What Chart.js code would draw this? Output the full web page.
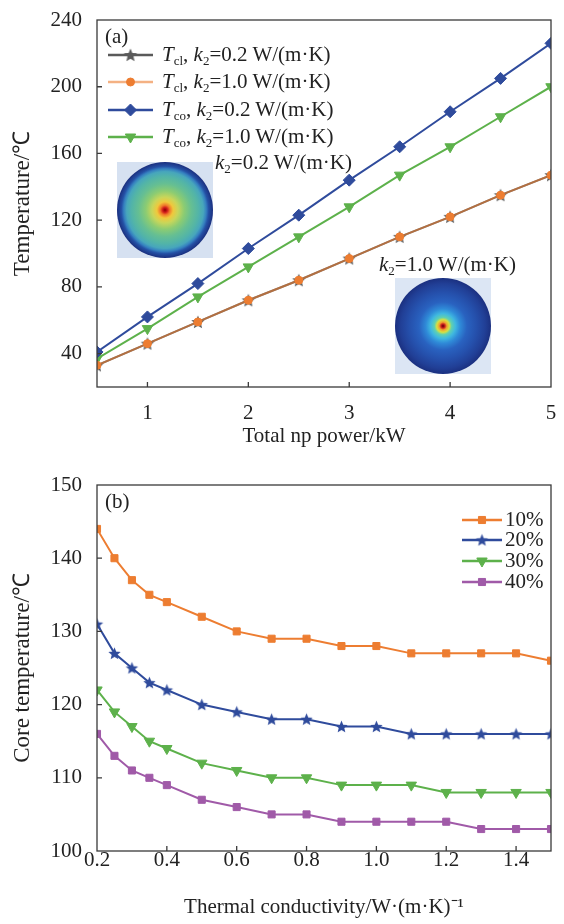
<!DOCTYPE html>
<html>
<head>
<meta charset="utf-8">
<script src="https://cdn.jsdelivr.net/npm/chart.js@4.4.1/dist/chart.umd.min.js"></script>
<style>
  body { margin: 0; background: #fff; }
  #wrap { position: relative; width: 564px; height: 924px; font-family: "Liberation Serif", "Times New Roman", serif; color: #222; }
  #chartA { position: absolute; left: 0; top: 0; }
  #chartB { position: absolute; left: 0; top: 460px; }
  .lbl { position: absolute; font-size: 21px; line-height: 21px; white-space: nowrap; }
  .lbl sub { font-size: 0.62em; vertical-align: -0.3em; line-height: 0; }
</style>
</head>
<body>
<div id="wrap">
  <canvas id="chartA" width="564" height="460"></canvas>
  <canvas id="chartB" width="564" height="464"></canvas>

  <div class="lbl" style="left:105px;top:26px">(a)</div>
  <div class="lbl" style="left:162px;top:44px"><i>T</i><sub>cl</sub>, <i>k</i><sub>2</sub>=0.2 W/(m·K)</div>
  <div class="lbl" style="left:162px;top:71px"><i>T</i><sub>cl</sub>, <i>k</i><sub>2</sub>=1.0 W/(m·K)</div>
  <div class="lbl" style="left:162px;top:99px"><i>T</i><sub>co</sub>, <i>k</i><sub>2</sub>=0.2 W/(m·K)</div>
  <div class="lbl" style="left:162px;top:126px"><i>T</i><sub>co</sub>, <i>k</i><sub>2</sub>=1.0 W/(m·K)</div>
  <div class="lbl" style="left:215px;top:152px"><i>k</i><sub>2</sub>=0.2 W/(m·K)</div>
  <div class="lbl" style="left:379px;top:254px"><i>k</i><sub>2</sub>=1.0 W/(m·K)</div>

  <div class="lbl" style="left:105px;top:491px">(b)</div>
  <div class="lbl" style="left:505px;top:509px">10%</div>
  <div class="lbl" style="left:505px;top:529px">20%</div>
  <div class="lbl" style="left:505px;top:550px">30%</div>
  <div class="lbl" style="left:505px;top:571px">40%</div>
</div>

<script>
// (a) temperature vs total np power
const powerKW = [0.5, 1, 1.5, 2, 2.5, 3, 3.5, 4, 4.5, 5];
const tclK02 = [33, 46, 59, 72, 84, 97, 110, 122, 135, 147];
const tclK10 = [33, 46, 59, 72, 84, 97, 110, 122, 135, 147];
const tcoK02 = [41, 62, 82, 103, 123, 144, 164, 185, 205, 226];
const tcoK10 = [37, 55, 74, 92, 110, 128, 147, 164, 182, 200];

// (b) core temperature vs thermal conductivity
const conductivity = [0.2, 0.25, 0.3, 0.35, 0.4, 0.5, 0.6, 0.7, 0.8, 0.9, 1.0, 1.1, 1.2, 1.3, 1.4, 1.5];
const core10 = [144, 140, 137, 135, 134, 132, 130, 129, 129, 128, 128, 127, 127, 127, 127, 126];
const core20 = [131, 127, 125, 123, 122, 120, 119, 118, 118, 117, 117, 116, 116, 116, 116, 116];
const core30 = [122, 119, 117, 115, 114, 112, 111, 110, 110, 109, 109, 109, 108, 108, 108, 108];
const core40 = [116, 113, 111, 110, 109, 107, 106, 105, 105, 104, 104, 104, 104, 103, 103, 103];

const serif = '"Liberation Serif", "Times New Roman", serif';
const textColor = '#222';
const frameColor = '#3a3a3a';

const ORANGE = '#ed7d31';
const BLUE = '#2f4b9c';
const GREEN = '#5db14b';
const PURPLE = '#a05aa8';
const GRAY = '#5a5a5a';

function pts(xs, ys) {
  return xs.map((x, i) => ({ x: x, y: ys[i] }));
}

function starImage(color, r) {
  const c = document.createElement('canvas');
  const s = Math.ceil(r * 2 + 2);
  c.width = s;
  c.height = s;
  const g = c.getContext('2d');
  g.beginPath();
  for (let i = 0; i < 10; i++) {
    const rad = i % 2 === 0 ? r : r * 0.45;
    const a = -Math.PI / 2 + i * Math.PI / 5;
    const px = s / 2 + rad * Math.cos(a);
    const py = s / 2 + rad * Math.sin(a) + 0.5;
    if (i === 0) g.moveTo(px, py); else g.lineTo(px, py);
  }
  g.closePath();
  g.fillStyle = color;
  g.fill();
  return c;
}

const starGray = starImage(GRAY, 7);
const starBlue = starImage(BLUE, 6.5);

// box around the plot and short inward ticks
const framePlugin = {
  id: 'frame',
  afterDatasetsDraw(chart) {
    const { ctx, chartArea: a, scales } = chart;
    ctx.save();
    ctx.strokeStyle = frameColor;
    ctx.lineWidth = 1.3;
    ctx.strokeRect(a.left, a.top, a.right - a.left, a.bottom - a.top);
    ctx.beginPath();
    scales.x.ticks.forEach(t => {
      const px = scales.x.getPixelForValue(t.value);
      if (px <= a.left + 1 || px >= a.right - 1) return;
      ctx.moveTo(px, a.bottom);
      ctx.lineTo(px, a.bottom - 5);
    });
    scales.y.ticks.forEach(t => {
      const py = scales.y.getPixelForValue(t.value);
      if (py <= a.top + 1 || py >= a.bottom - 1) return;
      ctx.moveTo(a.left, py);
      ctx.lineTo(a.left + 5, py);
    });
    ctx.stroke();
    ctx.restore();
  }
};

function legendSamples(id, order, x0, x1, ys) {
  return {
    id: id,
    afterDraw(chart) {
      const ctx = chart.ctx;
      order.forEach((di, i) => {
        const ds = chart.data.datasets[di];
        const y = ys[i];
        ctx.save();
        ctx.strokeStyle = ds.borderColor;
        ctx.lineWidth = 2.5;
        ctx.beginPath();
        ctx.moveTo(x0, y);
        ctx.lineTo(x1, y);
        ctx.stroke();
        ctx.fillStyle = ds.pointBackgroundColor || ds.borderColor;
        ctx.strokeStyle = ds.pointBorderColor || ds.borderColor;
        ctx.lineWidth = 1;
        Chart.helpers.drawPoint(ctx, {
          pointStyle: ds.pointStyle,
          radius: ds.pointRadius,
          rotation: ds.pointRotation || 0,
          borderWidth: 1
        }, (x0 + x1) / 2, y);
        ctx.restore();
      });
    }
  };
}

function drawDisc(ctx, cx, cy, r, bg, stops) {
  ctx.save();
  ctx.fillStyle = bg;
  ctx.fillRect(cx - r, cy - r, 2 * r, 2 * r);
  const g = ctx.createRadialGradient(cx, cy, 0, cx, cy, r);
  stops.forEach(s => g.addColorStop(s[0], s[1]));
  ctx.beginPath();
  ctx.arc(cx, cy, r, 0, Math.PI * 2);
  ctx.fillStyle = g;
  ctx.fill();
  ctx.restore();
}

const discPlugin = {
  id: 'discs',
  beforeDatasetsDraw(chart) {
    const ctx = chart.ctx;
    drawDisc(ctx, 165, 210, 48, '#d6e1f1', [
      [0, '#8b0000'], [0.05, '#d01c1c'], [0.1, '#f07a2a'], [0.17, '#f0c83c'],
      [0.27, '#c8d65a'], [0.4, '#8ccc72'], [0.55, '#66bf92'], [0.7, '#52b4a8'],
      [0.8, '#47a6bc'], [0.86, '#3580c0'], [0.91, '#2450a5'], [1, '#1b2f7e']
    ]);
    drawDisc(ctx, 443, 326, 48, '#dce6f4', [
      [0, '#600000'], [0.04, '#c81e1e'], [0.08, '#f0a030'], [0.13, '#d8e040'],
      [0.18, '#60d0b0'], [0.26, '#3fb8e0'], [0.36, '#2f8ad8'], [0.5, '#2962c0'],
      [0.7, '#2550ac'], [0.88, '#213f96'], [1, '#1b3080']
    ]);
  }
};

const tickFont = { family: serif, size: 21 };
const titleFont = { family: serif, size: 21 };
const yTitleFont = { family: serif, size: 23 };

function fixX(s) {
  s.height = 73;
  s.paddingLeft = 0;
  s.paddingRight = 0;
}
function fixY(s) {
  s.width = 97;
  s.paddingTop = 0;
  s.paddingBottom = 0;
}

// chart (a)
new Chart(document.getElementById('chartA'), {
  type: 'line',
  data: {
    datasets: [
      { label: 'Tcl, k2=1.0', data: pts(powerKW, tclK10), borderColor: 'rgba(237,125,49,0.6)',
        pointStyle: 'circle', pointRadius: 4, pointBackgroundColor: ORANGE, pointBorderColor: ORANGE },
      { label: 'Tcl, k2=0.2', data: pts(powerKW, tclK02), borderColor: GRAY,
        pointStyle: starGray, pointRadius: 6, pointBackgroundColor: GRAY, pointBorderColor: GRAY },
      { label: 'Tco, k2=0.2', data: pts(powerKW, tcoK02), borderColor: BLUE,
        pointStyle: 'rectRot', pointRadius: 6, pointBackgroundColor: BLUE, pointBorderColor: BLUE },
      { label: 'Tco, k2=1.0', data: pts(powerKW, tcoK10), borderColor: GREEN,
        pointStyle: 'triangle', pointRotation: 180, pointRadius: 6, pointBackgroundColor: GREEN, pointBorderColor: GREEN }
    ]
  },
  options: {
    responsive: false,
    animation: false,
    layout: { padding: { top: 20, right: 13, left: 0, bottom: 0 } },
    plugins: { legend: { display: false }, tooltip: { enabled: false } },
    elements: { line: { borderWidth: 2, tension: 0 }, point: { borderWidth: 1 } },
    scales: {
      x: {
        type: 'linear', min: 0.5, max: 5,
        grid: { display: false, drawTicks: false }, border: { display: false },
        ticks: { stepSize: 1, includeBounds: false, padding: 14, font: tickFont, color: textColor },
        title: { display: true, text: 'Total np power/kW', font: titleFont, color: textColor, padding: { top: 0, bottom: 11 } },
        afterFit: fixX
      },
      y: {
        min: 20, max: 240,
        grid: { display: false, drawTicks: false }, border: { display: false },
        ticks: { stepSize: 40, includeBounds: false, padding: 15, font: tickFont, color: textColor },
        title: { display: true, text: 'Temperature/℃', font: yTitleFont, color: textColor, padding: { top: 9, bottom: 0 } },
        afterFit: fixY
      }
    }
  },
  plugins: [discPlugin, framePlugin, legendSamples('legendA', [1, 0, 2, 3], 108, 153, [55, 82, 110, 137])]
});

// chart (b)
new Chart(document.getElementById('chartB'), {
  type: 'line',
  data: {
    datasets: [
      { label: '10%', data: pts(conductivity, core10), borderColor: ORANGE,
        pointStyle: 'rect', pointRadius: 5, pointBackgroundColor: ORANGE, pointBorderColor: ORANGE },
      { label: '20%', data: pts(conductivity, core20), borderColor: BLUE,
        pointStyle: starBlue, pointRadius: 6, pointBackgroundColor: BLUE, pointBorderColor: BLUE },
      { label: '30%', data: pts(conductivity, core30), borderColor: GREEN,
        pointStyle: 'triangle', pointRotation: 180, pointRadius: 6, pointBackgroundColor: GREEN, pointBorderColor: GREEN },
      { label: '40%', data: pts(conductivity, core40), borderColor: PURPLE,
        pointStyle: 'rect', pointRadius: 5, pointBackgroundColor: PURPLE, pointBorderColor: PURPLE }
    ]
  },
  options: {
    responsive: false,
    animation: false,
    layout: { padding: { top: 25, right: 13, left: 0, bottom: 0 } },
    plugins: { legend: { display: false }, tooltip: { enabled: false } },
    elements: { line: { borderWidth: 2, tension: 0 }, point: { borderWidth: 1 } },
    scales: {
      x: {
        type: 'linear', min: 0.2, max: 1.5,
        grid: { display: false, drawTicks: false }, border: { display: false },
        ticks: { stepSize: 0.2, includeBounds: false, padding: -3, font: tickFont, color: textColor,
          callback: v => v.toFixed(1) },
        title: { display: true, text: 'Thermal conductivity/W·(m·K)⁻¹', font: titleFont, color: textColor, padding: { top: 0, bottom: 4 } },
        afterFit: fixX
      },
      y: {
        min: 100, max: 150,
        grid: { display: false, drawTicks: false }, border: { display: false },
        ticks: { stepSize: 10, padding: 15, font: tickFont, color: textColor },
        title: { display: true, text: 'Core temperature/℃', font: yTitleFont, color: textColor, padding: { top: 9, bottom: 0 } },
        afterFit: fixY
      }
    }
  },
  plugins: [framePlugin, legendSamples('legendB', [0, 1, 2, 3], 462, 502, [60, 80, 101, 122])]
});
</script>
</body>
</html>
